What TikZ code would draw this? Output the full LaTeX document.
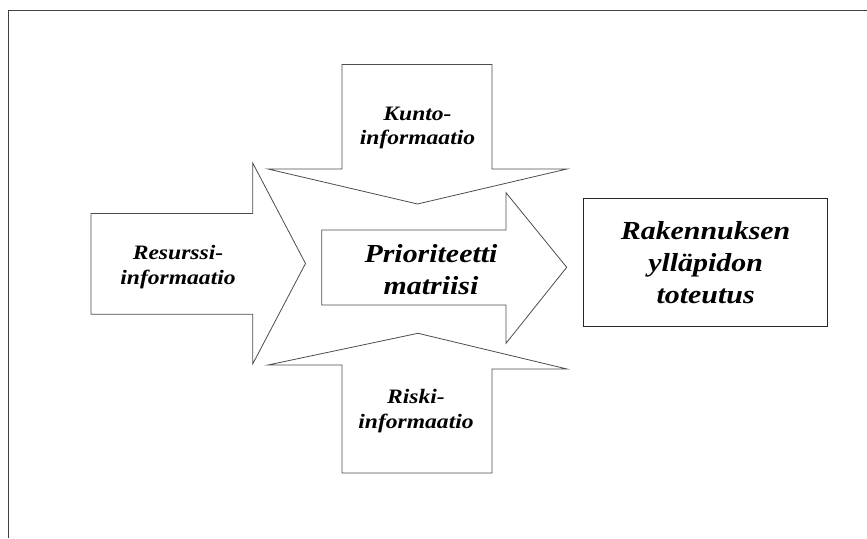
\documentclass[tikz,border=0pt]{standalone}
\usepackage{fontspec}
\setmainfont{Liberation Serif}[FakeStretch=1.15]
\usepackage{tikz}

\begin{document}
\begin{tikzpicture}[x=1pt,y=1pt,
  blockarrow/.style={draw=black!70,line width=0.8pt,line join=miter},
  pieni/.style={font=\fontsize{20.5}{24.7}\selectfont\bfseries\itshape,align=center},
  iso/.style={font=\fontsize{26}{32}\selectfont\bfseries\itshape,align=center}]

  \useasboundingbox (0,0) rectangle (867,538);

  % Kehys
  \draw[black!75,line width=1.3pt] (8.5,0) -- (8.5,527.5) -- (867,527.5);

  % Nuolet
  \draw[blockarrow] (342,473.5) -- (492,473.5) -- (492,369) -- (567,369)
    -- (417.5,334) -- (268,369) -- (342,369) -- cycle;
  \draw[blockarrow] (342,65) -- (342,173) -- (268,173) -- (418,204.7)
    -- (567,169) -- (492,169) -- (492,65) -- cycle;
  \draw[blockarrow] (91,324.5) -- (252.7,324.5) -- (252.7,375) -- (305.5,274.5)
    -- (252.7,174) -- (252.7,223.8) -- (91,223.8) -- cycle;
  \draw[blockarrow] (321.7,308) -- (506,308) -- (506,345.3) -- (566.7,270.7)
    -- (506,194.7) -- (506,233) -- (321.7,233) -- cycle;

  % Tekstit
  \node[pieni] (kunto) at (417.5,410) {Kunto-\\informaatio};
  \node[pieni] (riski) at (416,127) {Riski-\\informaatio};
  \node[pieni] (resurssi) at (178,271) {Resurssi-\\informaatio};
  \node[iso] (matriisi) at (431,268) {Prioriteetti\\matriisi};

  % Laatikko
  \node[iso,draw=black!85,line width=1pt,minimum width=244.4pt,
    minimum height=127.7pt] (toteutus) at (705.6,275.2)
    {Rakennuksen\\ylläpidon\\toteutus};

\end{tikzpicture}
\end{document}
